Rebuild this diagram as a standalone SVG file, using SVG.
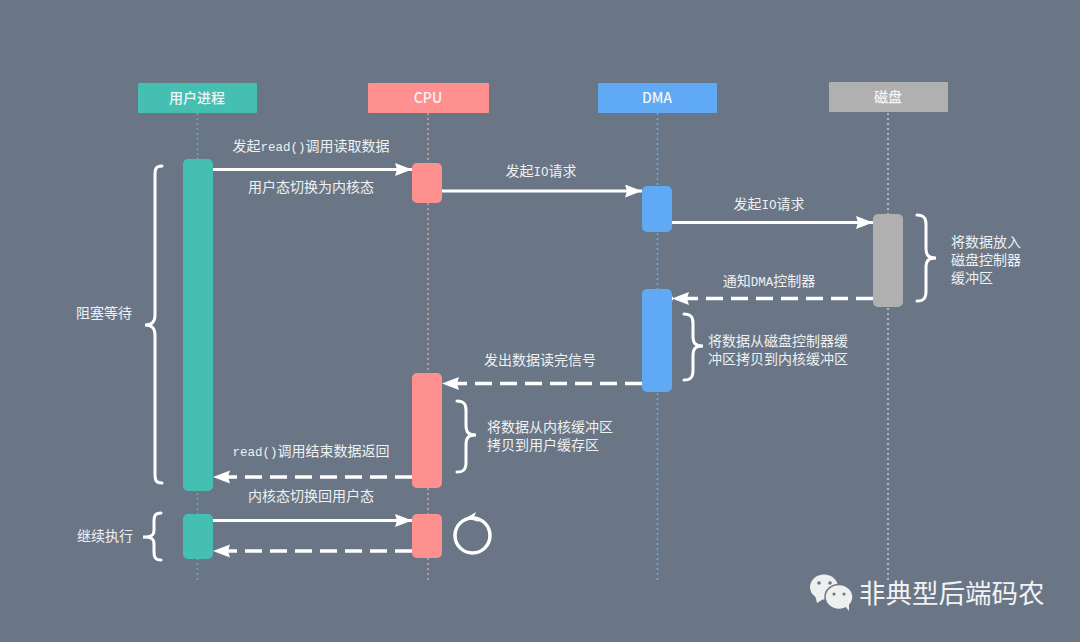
<svg xmlns="http://www.w3.org/2000/svg" width="1080" height="642" viewBox="0 0 1080 642">
<style>
.t{font-family:"Noto Sans CJK SC","DejaVu Sans",sans-serif;font-size:14px;fill:#eef1f2;text-anchor:middle}
.s{text-anchor:start}
.h{font-family:"Noto Sans CJK SC","Liberation Sans",sans-serif;font-size:14px;font-weight:500;fill:#f3f6f6;text-anchor:middle}
.m{font-family:"Liberation Mono","Noto Sans CJK SC",monospace;font-size:12.5px}
.life{stroke-width:1.5;stroke-dasharray:2 3;fill:none}
.a{stroke:#fff;stroke-width:3;fill:none}
.d{stroke-width:3.500;stroke-dasharray:17 8}
.b{stroke:#fff;stroke-width:3;fill:none;stroke-linecap:round}
</style>
<defs>
<marker id="ar" markerUnits="userSpaceOnUse" markerWidth="18" markerHeight="14" refX="17" refY="6.500" orient="auto"><path d="M0 0L17 6.500L0 13L2 6.500Z" fill="#fff"/></marker>
</defs>
<rect width="1080" height="642" fill="#6a7686"/>
<g id="connectors">
<path class="life" stroke="#59b8b0" d="M197.500 113V582"/>
<path class="life" stroke="#e99a9d" d="M428 113V582"/>
<path class="life" stroke="#70aeea" d="M657.500 113V582"/>
<path class="life" stroke="#c8cdd2" d="M888 113V582"/>
<path class="a" marker-end="url(#ar)" d="M212 169.500H412"/>
<path class="a" marker-end="url(#ar)" d="M442 191H642"/>
<path class="a" marker-end="url(#ar)" d="M672 222.500H873"/>
<path class="a d" marker-end="url(#ar)" d="M873 298.500H672"/>
<path class="a d" marker-end="url(#ar)" d="M642 383.500H442"/>
<path class="a d" marker-end="url(#ar)" d="M412 477H213"/>
<path class="a" marker-end="url(#ar)" d="M212 520.500H412"/>
<path class="a d" marker-end="url(#ar)" d="M412 551H213"/>
</g>
<g id="user"><rect x="138" y="83" width="119" height="30" rx="1" fill="#44bfb2"/><text class="h" x="197" y="102.500">用户进程</text></g>
<g id="cpu"><rect x="368" y="83" width="121" height="30" rx="1" fill="#ff9090"/><text class="h" x="428" y="102.500">CPU</text></g>
<g id="dma"><rect x="598" y="83" width="119" height="30" rx="1" fill="#60a9f5"/><text class="h" x="657" y="102.500">DMA</text></g>
<g id="disk"><rect x="829" y="82" width="119" height="30" rx="1" fill="#b0b0b0"/><text class="h" x="888" y="101.500">磁盘</text></g>
<g id="user-a1"><rect x="183" y="159" width="30" height="332" rx="5" fill="#44bfb2"/></g>
<g id="user-a2"><rect x="183" y="514" width="30" height="45" rx="5" fill="#44bfb2"/></g>
<g id="cpu-a1"><rect x="412" y="163" width="30" height="40" rx="5" fill="#ff9090"/></g>
<g id="cpu-a2"><rect x="412" y="373" width="30" height="115" rx="5" fill="#ff9090"/></g>
<g id="cpu-a3"><rect x="412" y="514" width="30" height="44" rx="5" fill="#ff9090"/></g>
<g id="dma-a1"><rect x="642" y="186" width="30" height="46" rx="5" fill="#60a9f5"/></g>
<g id="dma-a2"><rect x="642" y="289" width="30" height="103" rx="5" fill="#60a9f5"/></g>
<g id="disk-a1"><rect x="873" y="214" width="30" height="93" rx="5" fill="#b0b0b0"/></g>
<g id="braces">
<path class="b" d="M162 166C155 166 155 170 155 176V315C155 322 152 325 145 325C152 325 155 328 155 335V473C155 479 155 483 162 483"/>
<path class="b" d="M161 513C155 513 154 516 154 521V530C154 535 152 537 143 537C152 537 154 539 154 544V552C154 557 155 560 161 560"/>
<path class="b" d="M917 215C924 215 926 218 926 224V248C926 255 928 258 936 258C928 258 926 261 926 268V291C926 298 924 301 917 301"/>
<path class="b" d="M684 314C691 314 693 317 693 323V336C693 343 695 346 703 346C695 346 693 349 693 356V370C693 377 691 380 684 380"/>
<path class="b" d="M457 401C464 401 466 404 466 410V425C466 432 468 435 476 435C468 435 466 438 466 445V462C466 469 464 472 457 472"/>
</g>
<g id="loop">
<circle cx="472.500" cy="535.500" r="17.500" fill="none" stroke="#fff" stroke-width="3.500"/>
<path d="M466 518L476 512L474 517L479 522Z" fill="#fff"/>
</g>
<g id="labels">
<text class="t" x="311" y="151">发起<tspan class="m">read()</tspan>调用读取数据</text>
<text class="t" x="311" y="192">用户态切换为内核态</text>
<text class="t" x="541" y="176">发起<tspan class="m">IO</tspan>请求</text>
<text class="t" x="769" y="209">发起<tspan class="m">IO</tspan>请求</text>
<text class="t" x="769" y="286">通知<tspan class="m">DMA</tspan>控制器</text>
<text class="t" x="540" y="365">发出数据读完信号</text>
<text class="t" x="311" y="456"><tspan class="m">read()</tspan>调用结束数据返回</text>
<text class="t" x="311" y="501">内核态切换回用户态</text>
<text class="t" x="104" y="318">阻塞等待</text>
<text class="t" x="105" y="541">继续执行</text>
<text class="t s" x="951" y="247">将数据放入</text>
<text class="t s" x="951" y="265">磁盘控制器</text>
<text class="t s" x="951" y="283">缓冲区</text>
<text class="t s" x="708" y="345.500">将数据从磁盘控制器缓</text>
<text class="t s" x="708" y="363.500">冲区拷贝到内核缓冲区</text>
<text class="t s" x="487" y="432">将数据从内核缓冲区</text>
<text class="t s" x="487" y="450">拷贝到用户缓存区</text>
</g>
<g id="watermark">
<ellipse cx="824" cy="587" rx="14" ry="12.500" fill="#eef0f0"/>
<path d="M815 595L817 603L825 598Z" fill="#eef0f0"/>
<ellipse cx="839" cy="597" rx="14" ry="12.500" fill="#eef0f0" stroke="#6a7686" stroke-width="1.500"/>
<path d="M845 606L849 611L849 602Z" fill="#eef0f0"/>
<circle cx="819" cy="583" r="1.800" fill="#6a7686"/><circle cx="830" cy="583" r="1.800" fill="#6a7686"/>
<circle cx="834" cy="594" r="1.600" fill="#6a7686"/><circle cx="844" cy="594" r="1.600" fill="#6a7686"/>
<text x="859" y="603" font-family="'Noto Sans CJK SC',sans-serif" font-size="26.500" fill="#f0f2f3">非典型后端码农</text>
</g>
</svg>
